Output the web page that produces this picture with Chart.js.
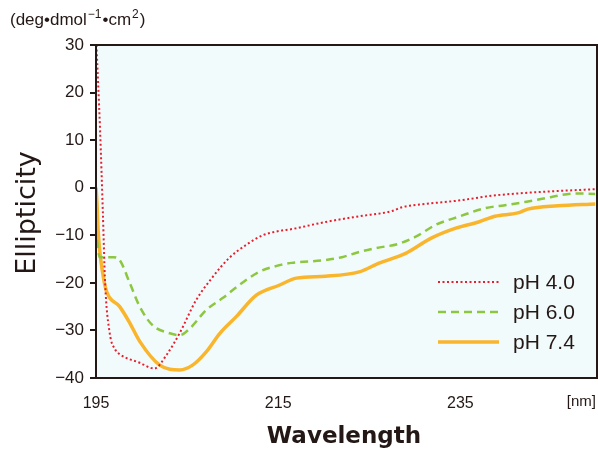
<!DOCTYPE html>
<html>
<head>
<meta charset="utf-8">
<script src="https://cdn.jsdelivr.net/npm/chart.js@4"></script>
<style>
  html, body { margin: 0; padding: 0; background: #fff; }
  #wrap { width: 598px; height: 451px; }
</style>
</head>
<body>
<div id="wrap"><canvas id="cd"></canvas></div>
<script>
// wavelength (nm) / ellipticity pairs
const ph40Wl  = [195.05, 195.45, 195.75, 196, 196.5, 197.1, 197.6, 199.8, 201.4, 202.8, 204.2, 206, 207.8, 209.6, 211.5, 213.3, 215.1, 216.5, 220.2, 223.9, 227.5, 228.6, 231.2, 234.8, 238.4, 242.1, 245.7, 249.8];
const ph40Val = [30, 12, -5, -20, -30.5, -34, -35, -36.8, -38, -35, -30.5, -23.6, -18.8, -14.8, -12, -10, -9.1, -8.7, -7.2, -6, -4.9, -4.1, -3.4, -2.7, -1.7, -1.1, -0.7, -0.3];

const ph60Wl  = [195.1, 195.4, 196.9, 197.6, 198.7, 199.8, 201.2, 203.1, 204.2, 205.3, 207.1, 208.9, 210.7, 212.9, 215.1, 216.5, 220.2, 222, 223.9, 225.7, 228.2, 230.1, 232.3, 234.8, 237.7, 240.2, 242.1, 244.9, 247.6, 249.8];
const ph60Val = [-11, -14.6, -14.6, -15.2, -20, -25, -28.9, -30.6, -31, -29.6, -25.7, -23.2, -20.5, -17.7, -16.3, -15.8, -15.2, -14.6, -13.5, -12.7, -11.8, -10.3, -7.8, -6.1, -4.3, -3.6, -3, -2, -1.2, -1.3];

const ph74Wl  = [195, 195.1, 195.25, 195.8, 196.2, 197.6, 198.7, 199.8, 202, 204.2, 205.6, 207.1, 208.6, 210.4, 212.6, 215.1, 217, 220.2, 223.9, 226, 229, 231.8, 234.5, 237, 238.8, 241.3, 242.4, 245.7, 249.8];
const ph74Val = [0, -3, -9.5, -18.7, -22, -25, -28.4, -32.3, -37.3, -38.3, -37.3, -34.5, -30.6, -27.1, -22.6, -20.5, -19, -18.6, -17.7, -15.9, -13.8, -10.6, -8.5, -7.2, -6, -5.3, -4.5, -3.8, -3.4];

const seriesNames = ['pH 4.0', 'pH 6.0', 'pH 7.4'];
const xTicks = [195, 215, 235];

const ink = '#231815';
const FONT = '"Liberation Sans", Arial, sans-serif';
const WIDE = '"DejaVu Sans", sans-serif';

function pts(xs, ys) { return xs.map((x, i) => ({ x: x, y: ys[i] })); }

const decor = {
  id: 'decor',
  beforeDraw(chart) {
    const { ctx, chartArea: a } = chart;
    ctx.save();
    ctx.fillStyle = '#f2fbfc';
    ctx.fillRect(a.left, a.top, a.right - a.left, a.bottom - a.top);
    ctx.restore();
  },
  afterDraw(chart) {
    const { ctx, chartArea: a } = chart;
    ctx.save();
    // frame
    ctx.strokeStyle = ink;
    ctx.lineWidth = 2;
    ctx.strokeRect(a.left, a.top, a.right - a.left, a.bottom - a.top);

    // legend
    const ds = chart.data.datasets;
    ds.forEach((d, i) => {
      const y = 282 + i * 30;
      ctx.beginPath();
      ctx.strokeStyle = d.borderColor;
      ctx.lineWidth = d.borderWidth;
      ctx.setLineDash(d.borderDash || []);
      ctx.moveTo(438, y);
      ctx.lineTo(499, y);
      ctx.stroke();
      ctx.setLineDash([]);
      ctx.fillStyle = ink;
      ctx.font = '21px ' + FONT;
      ctx.textAlign = 'left';
      ctx.textBaseline = 'middle';
      ctx.fillText(d.label, 513, y + 1);
    });

    // axis titles
    ctx.fillStyle = ink;
    ctx.textAlign = 'center';
    ctx.textBaseline = 'middle';
    ctx.font = 'bold 23px ' + WIDE;
    ctx.fillText('Wavelength', 344, 437);

    ctx.save();
    ctx.translate(28, 213);
    ctx.rotate(-Math.PI / 2);
    ctx.font = '27px ' + WIDE;
    ctx.fillText('Ellipticity', 0, 0);
    ctx.restore();

    ctx.font = '15px ' + FONT;
    ctx.textAlign = 'right';
    ctx.fillText('[nm]', 596, 402);

    // unit label with superscripts
    const parts = [['(deg•dmol', 17, 0], ['−1', 12, -7], ['•cm', 17, 0], ['2', 12, -7], [')', 17, 0]];
    let x = 10;
    ctx.textAlign = 'left';
    ctx.textBaseline = 'alphabetic';
    parts.forEach(([t, s, dy]) => {
      ctx.font = s + 'px ' + FONT;
      ctx.fillText(t, x, 25 + dy);
      x += ctx.measureText(t).width + 1;
    });
    ctx.restore();
  }
};

new Chart(document.getElementById('cd'), {
  type: 'line',
  data: {
    datasets: [
      { label: seriesNames[0], data: pts(ph40Wl, ph40Val), borderColor: '#e5202e', borderWidth: 2, borderDash: [2, 2.5] },
      { label: seriesNames[1], data: pts(ph60Wl, ph60Val), borderColor: '#8dc63f', borderWidth: 2.5, borderDash: [8, 5] },
      { label: seriesNames[2], data: pts(ph74Wl, ph74Val), borderColor: '#f9b52c', borderWidth: 3.5 }
    ]
  },
  options: {
    responsive: true,
    maintainAspectRatio: false,
    animation: false,
    layout: { padding: { top: 45, right: 1, left: 0, bottom: 0 } },
    elements: {
      point: { radius: 0 },
      line: { cubicInterpolationMode: 'monotone', fill: false }
    },
    plugins: { legend: { display: false }, tooltip: { enabled: false } },
    scales: {
      x: {
        type: 'linear',
        min: 195,
        max: 250,
        afterBuildTicks: s => { s.ticks = xTicks.map(v => ({ value: v })); },
        afterFit: s => { s.height = 73; },
        grid: { display: false, drawTicks: false },
        border: { display: false },
        ticks: { padding: 16, color: ink, font: { family: FONT, size: 16 }, maxRotation: 0, autoSkip: false }
      },
      y: {
        min: -40,
        max: 30,
        afterFit: s => { s.width = 96; },
        grid: { drawOnChartArea: false, drawTicks: true, tickLength: 6, color: ink, lineWidth: 2 },
        border: { display: false },
        ticks: {
          stepSize: 10,
          padding: 6,
          color: ink,
          font: { family: FONT, size: 17 },
          callback: v => String(v).replace('-', '−')
        }
      }
    }
  },
  plugins: [decor]
});
</script>
</body>
</html>
